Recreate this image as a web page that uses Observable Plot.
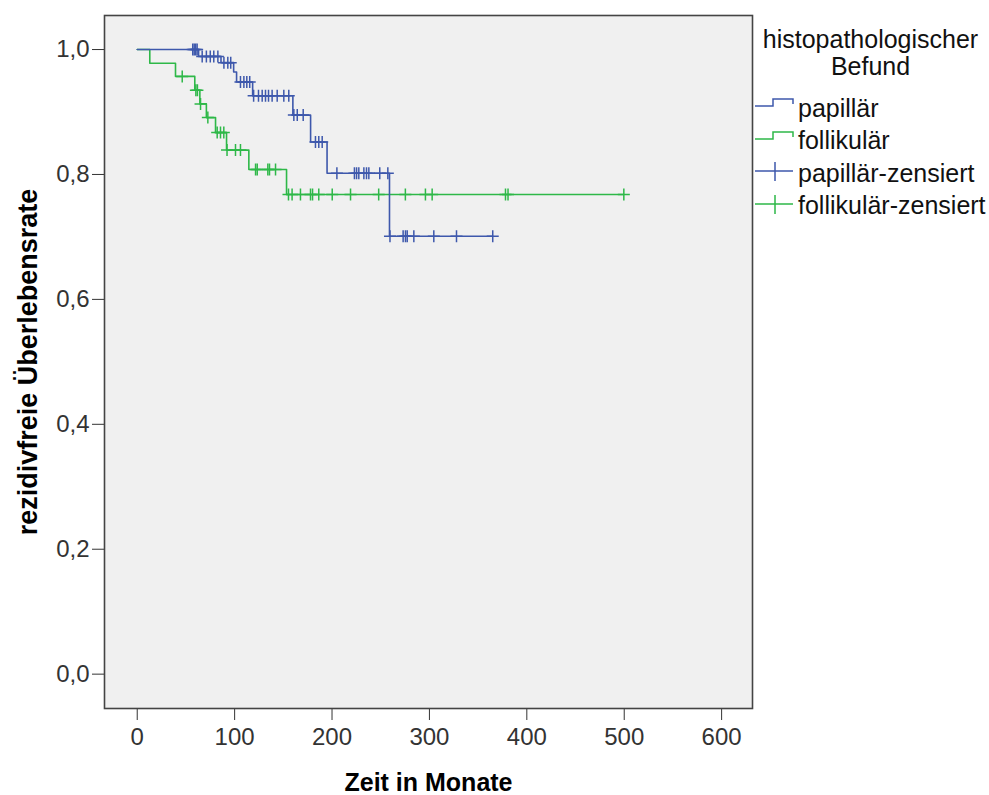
<!DOCTYPE html>
<html>
<head>
<meta charset="utf-8">
<script src="https://cdn.jsdelivr.net/npm/d3@7"></script>
<script src="https://cdn.jsdelivr.net/npm/@observablehq/plot@0.6"></script>
<style>
  body { margin: 0; background: #ffffff; font-family: "Liberation Sans", Arial, sans-serif; }
  #chart { position: relative; width: 989px; height: 795px; }
  #chart svg g[aria-label="x-axis label"] { font-weight: bold; font-size: 25px; fill: #000; }
  #chart svg g[aria-label="y-axis label"] { font-weight: bold; font-size: 27px; fill: #000; }
  .legend { position: absolute; left: 752px; top: 0; width: 237px; font-size: 25px; color: #111; }
  .legend .title { position: absolute; top: 26px; left: 0; width: 237px; text-align: center; line-height: 27px; }
  .legend .row { position: absolute; left: 3px; height: 32px; display: flex; align-items: center; white-space: nowrap; }
  .legend .row svg { margin-right: 3px; overflow: visible; }
</style>
</head>
<body>
<div id="chart"></div>
<script>
// Kaplan-Meier estimates of recurrence-free survival by histopathological finding

const groups = ["papillär", "follikulär"];
const groupColors = ["#3E58AC", "#2EB848"];

// papillär: event times (months) and survival after each event
const papillarEventTimes = [63, 86, 99, 102, 118.5, 159.8, 178, 194.9, 259];
const papillarSurvival   = [0.989, 0.979, 0.964, 0.948, 0.926, 0.895, 0.852, 0.802, 0.701];
// papillär: censored observations (months)
const papillarCensorTimes = [
  57, 58.5, 60, 61.5,
  66.7, 71, 75, 78.6, 82.8,
  89, 93, 96,
  106, 109.5, 112.5, 115.5,
  119.5, 124.5, 128.3, 131.7, 134.8, 138.5, 143.7, 150.5, 155.6,
  160.8, 164.3, 170.4,
  183, 186.4, 189.9,
  205, 223, 225.2, 227.5, 232.7, 235.4, 237.8, 249, 257.3,
  259.5, 273, 275.4, 277.2, 284, 304.5, 327.8, 365
];

// follikulär: event times (months) and survival after each event
const follikularEventTimes = [12.9, 39.3, 59.1, 64.3, 71, 80.4, 91.7, 114.6, 153.3];
const follikularSurvival   = [0.978, 0.957, 0.935, 0.913, 0.891, 0.867, 0.839, 0.808, 0.768];
// follikulär: censored observations (months)
const follikularCensorTimes = [
  46.2,
  60.2, 61.8,
  65,
  72.5,
  82.1, 85.5, 88.9,
  92.2, 100.9, 106,
  121.5, 123.2, 134.1, 135.8, 142,
  155.3, 159, 167.6, 177.9, 180, 186.4, 200.2, 219, 247.9, 275.3, 295.9, 302.8, 378.1, 380.7, 499.6
];

const xTicks = [0, 100, 200, 300, 400, 500, 600];
const yTicks = [0, 0.2, 0.4, 0.6, 0.8, 1.0];

// Build step curves (start at 1 at time 0, end at the last follow-up) and censor marks
function buildSeries(group, eventTimes, survival, censorTimes) {
  const steps = [{group, time: 0, surv: 1}];
  eventTimes.forEach((t, i) => steps.push({group, time: t, surv: survival[i]}));
  const lastTime = Math.max(d3.max(censorTimes), d3.max(eventTimes));
  steps.push({group, time: lastTime, surv: survival[survival.length - 1]});
  const levelAt = (t) => {
    let s = 1;
    eventTimes.forEach((et, i) => { if (et <= t) s = survival[i]; });
    return s;
  };
  const censors = censorTimes.map(t => ({group, time: t, surv: levelAt(t)}));
  return {steps, censors};
}

const pap = buildSeries(groups[0], papillarEventTimes, papillarSurvival, papillarCensorTimes);
const fol = buildSeries(groups[1], follikularEventTimes, follikularSurvival, follikularCensorTimes);

// Plus-shaped censor marker drawn as strokes
const plusSymbol = {
  draw(context, size) {
    const r = Math.sqrt(size / Math.PI);
    context.moveTo(-r, 0); context.lineTo(r, 0);
    context.moveTo(0, -r); context.lineTo(0, r);
  }
};

const comma = d => d.toFixed(1).replace(".", ",");

const chart = Plot.plot({
  width: 989,
  height: 795,
  marginLeft: 104,
  marginRight: 237,
  marginTop: 15,
  marginBottom: 87,
  style: {fontFamily: "Liberation Sans, Arial, sans-serif", fontSize: "24px", color: "#333", background: "transparent", overflow: "visible"},
  x: {domain: [-33.6, 631.7]},
  y: {domain: [-0.055, 1.0545]},
  color: {domain: groups, range: groupColors},
  marks: [
    Plot.frame({fill: "#f0f0f0", stroke: null}),
    Plot.line(fol.steps, {x: "time", y: "surv", stroke: "group", curve: "step-after", strokeWidth: 1.6}),
    Plot.line(pap.steps, {x: "time", y: "surv", stroke: "group", curve: "step-after", strokeWidth: 1.6}),
    Plot.dot(fol.censors, {x: "time", y: "surv", stroke: "group", fill: "none", symbol: plusSymbol, r: 6, strokeWidth: 1.5}),
    Plot.dot(pap.censors, {x: "time", y: "surv", stroke: "group", fill: "none", symbol: plusSymbol, r: 6, strokeWidth: 1.5}),
    Plot.axisX(xTicks, {tickSize: 12, tickPadding: 7, fontSize: 24, label: "Zeit in Monate", labelAnchor: "center", labelArrow: "none", labelOffset: 82}),
    Plot.axisY(yTicks, {tickSize: 12, tickPadding: 3, fontSize: 24, tickFormat: comma, label: "rezidivfreie Überlebensrate", labelAnchor: "center", labelArrow: "none", labelOffset: 87}),
    Plot.frame({stroke: "#444", strokeWidth: 1.6})
  ]
});

const container = document.getElementById("chart");
container.appendChild(chart);

// Legend to the right of the plot area
const legend = document.createElement("div");
legend.className = "legend";
legend.innerHTML = `<div class="title">histopathologischer<br>Befund</div>`;
const items = [
  {label: "papillär", color: groupColors[0], kind: "step"},
  {label: "follikulär", color: groupColors[1], kind: "step"},
  {label: "papillär-zensiert", color: groupColors[0], kind: "plus"},
  {label: "follikulär-zensiert", color: groupColors[1], kind: "plus"}
];
items.forEach((it, i) => {
  const row = document.createElement("div");
  row.className = "row";
  row.style.top = (92 + i * 32.5) + "px";
  const icon = it.kind === "step"
    ? `<svg width="40" height="24"><path d="M0,10H18V3H38V8" fill="none" stroke="${it.color}" stroke-width="1.5"/></svg>`
    : `<svg width="40" height="24"><path d="M0,10H38M20,1V20" fill="none" stroke="${it.color}" stroke-width="1.5"/></svg>`;
  row.innerHTML = icon + `<span>${it.label}</span>`;
  legend.appendChild(row);
});
container.appendChild(legend);
</script>
</body>
</html>
